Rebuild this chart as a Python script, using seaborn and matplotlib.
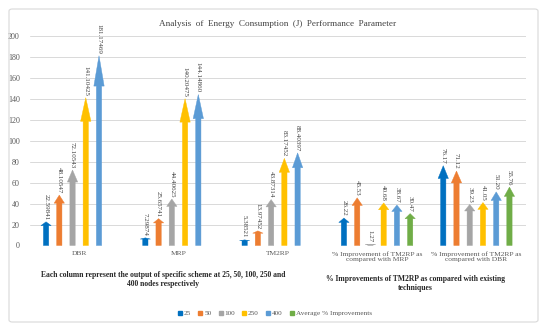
import numpy as np
import pandas as pd
import seaborn as sns
import matplotlib.pyplot as plt
from matplotlib.patches import Polygon, FancyBboxPatch
from matplotlib.lines import Line2D

# categories and series
groups = ["DBR", "MRP", "TM2RP",
          "% Improvement of TM2RP as\ncompared with MRP",
          "% Improvement of TM2RP as\ncompared with DBR"]
series = ["25", "50", "100", "250", "400", "Average % Improvements"]

# values (energy in J, then % improvements)
n25 = [22.59841, 7.29874, 5.38521, 26.22, 76.17]
n50 = [48.10547, 25.65741, 13.97452, 45.53, 71.12]
n100 = [72.10543, 44.40625, 43.87314, 1.27, 39.23]
n250 = [141.10425, 140.20475, 83.17452, 40.68, 41.05]
n400 = [181.17469, 144.14860, 88.40397, 38.67, 51.20]
avg_impr = [np.nan, np.nan, np.nan, 30.47, 55.76]

colors = ["#0070C0", "#ED7D31", "#A5A5A5", "#FFC000", "#5B9BD5", "#70AD47"]

sns.set_theme(style="white")
plt.rcParams['font.family'] = ['Liberation Serif', 'DejaVu Serif']

rows = []
for s, vals in zip(series, [n25, n50, n100, n250, n400, avg_impr]):
    for g, v in zip(groups, vals):
        rows.append({"Group": g, "Series": s, "Value": v})
df = pd.DataFrame(rows)

fig = plt.figure(figsize=(5.5, 3.32), dpi=100)
ax = fig.add_axes([29.5 / 550, 1 - 245.5 / 332, (526 - 29.5) / 550, (245.5 - 36) / 332])

sns.barplot(data=df, x="Group", y="Value", hue="Series", hue_order=series,
            order=groups, palette=colors, width=0.8, ax=ax, legend=False)

# turn every bar into an arrow shape, and put the value on top
for i, cont in enumerate(ax.containers):
    col = colors[i]
    for bar in cont:
        h = bar.get_height()
        bar.set_visible(False)
        if not np.isfinite(h) or h <= 0:
            continue
        w = bar.get_width()
        cx = bar.get_x() + w / 2
        sw, hw, hl = 0.2 * w, 0.39 * w, 0.16 * h
        pts = [(cx - sw, 0), (cx + sw, 0), (cx + sw, h - hl), (cx + hw, h - hl),
               (cx, h), (cx - hw, h - hl), (cx - sw, h - hl)]
        ax.add_patch(Polygon(pts, closed=True, fc=col, ec=col, lw=0.3, zorder=3))
        gi = int(round(cx))
        label = f"{h:.5f}" if gi < 3 else f"{h:.2f}"
        ax.text(cx, h + 1.8, label, rotation=-90, ha='center', va='bottom',
                fontsize=5, color='#404040')

ax.set_ylim(0, 200)
ax.set_xlim(-0.5, 4.5)
ax.set_yticks(range(0, 201, 20))
ax.yaxis.grid(True, color='#D9D9D9', lw=0.7, zorder=0)
ax.set_axisbelow(True)
for sp in ax.spines.values():
    sp.set_visible(False)
ax.tick_params(axis='both', length=0, colors='#595959')
ax.tick_params(axis='y', labelsize=5.8, pad=7)
ax.tick_params(axis='x', labelsize=5.4, pad=4)
ax.set_xlabel("")
ax.set_ylabel("")

fig.text(278 / 550, 1 - 24 / 332, "Analysis  of  Energy  Consumption  (J)  Performance  Parameter",
         ha='center', va='center', fontsize=6.6, color='#404040')

fig.text(163 / 550, 1 - 279.5 / 332,
         "Each column represent the output of specific scheme at 25, 50, 100, 250 and\n400 nodes respectively",
         ha='center', va='center', fontsize=5.5, fontweight='bold', color='#262626', linespacing=1.25)
fig.text(415 / 550, 1 - 283.5 / 332,
         "% Improvements of TM2RP as compared with existing\ntechniques",
         ha='center', va='center', fontsize=5.5, fontweight='bold', color='#262626', linespacing=1.25)

handles = [Line2D([], [], marker='s', ls='none', color=c, markersize=2.2) for c in colors]
fig.legend(handles, series, loc='center', bbox_to_anchor=(275 / 550, 1 - 313 / 332), ncol=6,
           frameon=False, fontsize=5.2, handlelength=0.5, handletextpad=0.3, columnspacing=1.0,
           labelcolor='#595959')

fig.patches.append(FancyBboxPatch((9 / 550, 10 / 332), 529 / 550, 313 / 332,
                                  boxstyle="round,pad=0,rounding_size=0.006",
                                  transform=fig.transFigure, fc='none', ec='#D9D9D9', lw=0.8))

fig.savefig("out.png", dpi=100)
